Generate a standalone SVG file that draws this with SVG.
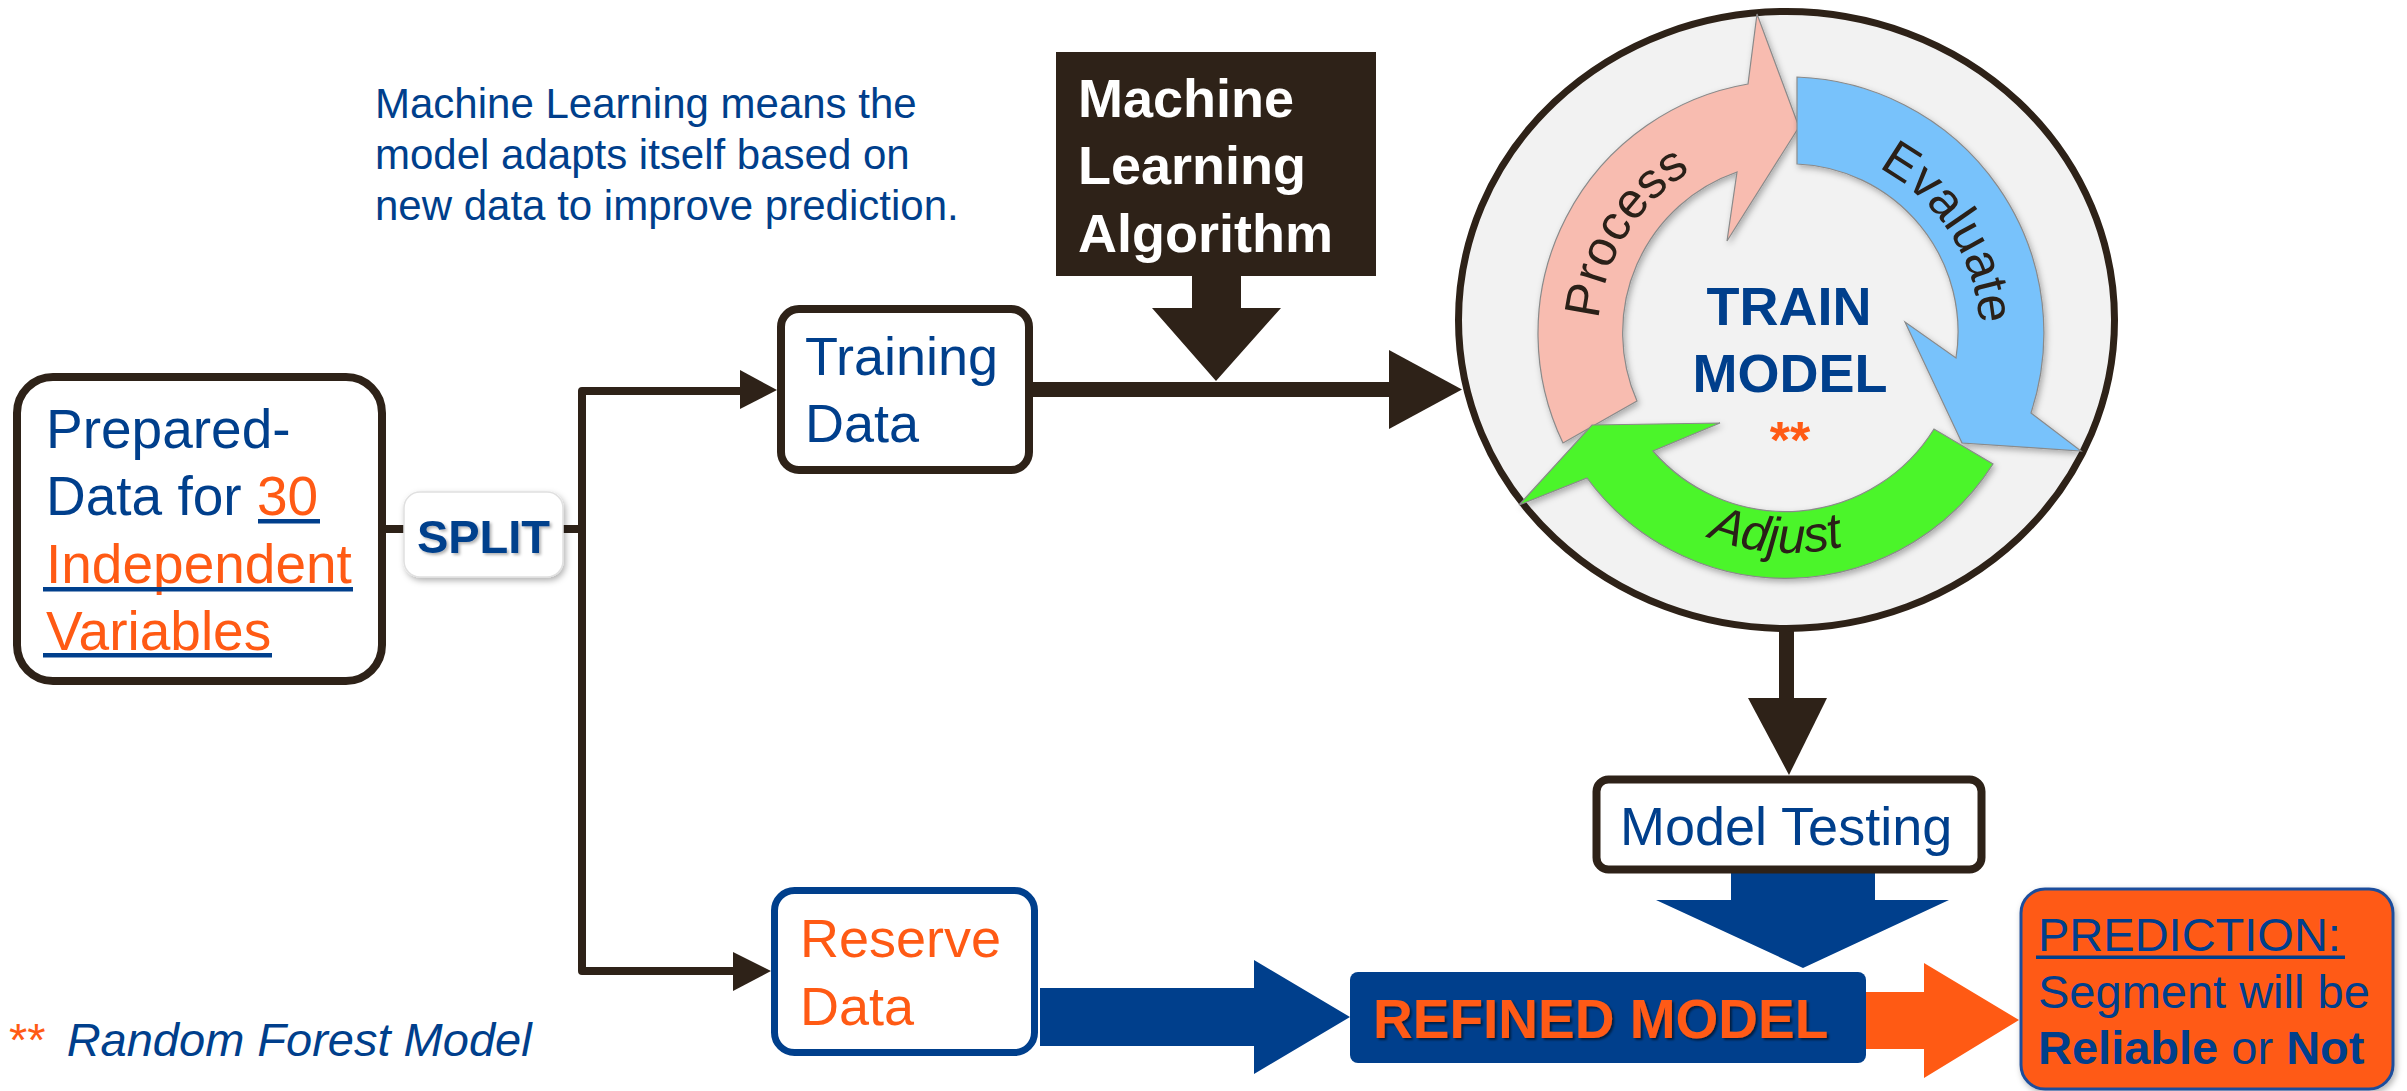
<svg xmlns="http://www.w3.org/2000/svg" width="2407" height="1091" viewBox="0 0 2407 1091">
<style>
.t{font-family:"Liberation Sans",Arial,sans-serif;}
.blue{fill:#003f8c;}
.orange{fill:#ff5a14;}
.dark{fill:#2e2218;}
.box{fill:#ffffff;stroke:#2e2218;stroke-width:8;}
.conn{fill:none;stroke:#2e2218;stroke-width:8;stroke-linejoin:round;}
.band{stroke:#8a8a8a;stroke-width:1.2;}
</style>
<defs>
<filter id="sh" x="-20%" y="-20%" width="140%" height="140%"><feDropShadow dx="2" dy="3" stdDeviation="3" flood-color="#000" flood-opacity="0.3"/></filter>
<filter id="tsh" x="-10%" y="-10%" width="120%" height="130%"><feDropShadow dx="2" dy="2" stdDeviation="1" flood-color="#000" flood-opacity="0.55"/></filter>
<filter id="tsh2" x="-10%" y="-10%" width="120%" height="130%"><feDropShadow dx="2" dy="2" stdDeviation="1.5" flood-color="#000" flood-opacity="0.3"/></filter>
<path id="pProcess" d="M 1620.5,426.1 A 192 192 0 0 1 1796.7,144.1"/>
<path id="pEvaluate" d="M 1780.1,146.3 A 190 190 0 0 1 1959.3,422.3"/>
<path id="pAdjust" d="M 1595,431.1 A 217 217 0 0 0 1969.9,457.3"/>
</defs>
<rect width="2407" height="1091" fill="#ffffff"/>

<g id="note">
<text class="t blue" font-size="42"><tspan x="375" y="118">Machine Learning means the</tspan><tspan x="375" y="169">model adapts itself based on</tspan><tspan x="375" y="220">new data to improve prediction.</tspan></text>
</g>

<g id="connectors">
<path class="conn" d="M 386,529 H 405"/>
<path class="conn" d="M 562,529 H 582"/>
<path class="conn" d="M 742,391 H 582 V 971 H 735"/>
<polygon class="dark" points="740,370 777,390 740,409"/>
<polygon class="dark" points="733,952 771,971 733,991"/>
<rect class="dark" x="1031" y="382" width="360" height="15"/>
<polygon class="dark" points="1389,350 1462,389.5 1389,429"/>
<polygon class="dark" points="1192,274 1241,274 1241,308 1281,308 1216,381 1152,308 1192,308"/>
<rect class="dark" x="1779" y="628" width="15" height="72"/>
<polygon class="dark" points="1748,698 1827,698 1789,775"/>
<polygon class="blue" points="1731,871 1875,871 1875,900 1949,900 1803,968 1656,900 1731,900"/>
<polygon class="blue" points="1040,988 1254,988 1254,960 1350,1017 1254,1074 1254,1046 1040,1046"/>
<polygon class="orange" points="1864,992 1924,992 1924,963 2019,1020 1924,1078 1924,1049 1864,1049"/>
</g>

<g id="prepared">
<rect class="box" x="17" y="377" width="365" height="304" rx="36"/>
<text class="t blue" font-size="55" x="46" y="448">Prepared-</text>
<text class="t blue" font-size="55" x="46" y="515">Data for <tspan class="orange">30</tspan></text>
<text class="t orange" font-size="55" x="46" y="583">Independent</text>
<text class="t orange" font-size="55" x="46" y="650">Variables</text>
<rect class="blue" x="258" y="519" width="62" height="4.5"/>
<rect class="blue" x="43" y="587" width="310" height="4.5"/>
<rect class="blue" x="43" y="653" width="229" height="4.5"/>
</g>

<g id="split">
<rect x="404" y="492" width="159" height="85" rx="16" fill="#ffffff" stroke="#e0e0e0" stroke-width="1.5" filter="url(#sh)"/>
<text class="t blue" font-size="47" font-weight="bold" x="483.5" y="553" text-anchor="middle" filter="url(#tsh2)">SPLIT</text>
</g>

<g id="training">
<rect class="box" x="781" y="309" width="248" height="161" rx="18"/>
<text class="t blue" font-size="54" x="805" y="375">Training</text>
<text class="t blue" font-size="54" x="805" y="442">Data</text>
</g>

<g id="ml-algorithm">
<rect class="dark" x="1056" y="52" width="320" height="224"/>
<text class="t" font-size="54" font-weight="bold" fill="#ffffff"><tspan x="1078" y="117">Machine</tspan><tspan x="1078" y="184">Learning</tspan><tspan x="1078" y="252">Algorithm</tspan></text>
</g>

<g id="train-model">
<ellipse cx="1786.5" cy="320" rx="328" ry="308.5" fill="#f2f2f2" stroke="#2e2218" stroke-width="7"/>
<path class="band" fill="#f8bcb0" filter="url(#sh)" d="M 1563,443 A 253 253 0 0 1 1748,84 L 1757,14 L 1799,127 L 1727,241 L 1737,172 A 170 170 0 0 0 1637,401 Z"/>
<path class="band" fill="#78c2fb" filter="url(#sh)" d="M 1797,77 A 256 256 0 0 1 2031,413 L 2081,451 L 1962,443 L 1905,322 L 1956,358 A 168 168 0 0 0 1797,164 Z"/>
<path class="band" fill="#4cf52c" filter="url(#sh)" d="M 1993,464 A 246 246 0 0 1 1587,478 L 1519,505 L 1592,425 L 1720,423 L 1653,451 A 175 175 0 0 0 1934,429 Z"/>
<text class="t" font-size="50" fill="#2a2018"><textPath href="#pProcess" startOffset="50%" text-anchor="middle">Process</textPath></text>
<text class="t" font-size="50" fill="#2a2018"><textPath href="#pEvaluate" startOffset="50%" text-anchor="middle">Evaluate</textPath></text>
<text class="t" font-size="50" font-style="italic" fill="#2a2018"><textPath href="#pAdjust" startOffset="50%" text-anchor="middle">Adjust</textPath></text>
<text class="t blue" font-size="54" font-weight="bold" text-anchor="middle" x="1789" y="325">TRAIN</text>
<text class="t blue" font-size="54" font-weight="bold" text-anchor="middle" x="1790" y="392">MODEL</text>
<text class="t orange" font-size="52" font-weight="bold" text-anchor="middle" x="1790" y="458">**</text>
</g>

<g id="model-testing">
<rect class="box" x="1596.5" y="779.5" width="385" height="90" rx="12" stroke-width="7"/>
<text class="t blue" font-size="54" x="1620" y="845">Model Testing</text>
</g>

<g id="reserve">
<rect x="774.5" y="890.5" width="260" height="162" rx="20" fill="#ffffff" stroke="#003f8c" stroke-width="7"/>
<text class="t orange" font-size="54" x="800" y="957">Reserve</text>
<text class="t orange" font-size="54" x="800" y="1025">Data</text>
</g>

<g id="refined">
<rect class="blue" x="1350" y="972" width="516" height="91" rx="8"/>
<text class="t orange" font-size="55" font-weight="bold" x="1373" y="1038" filter="url(#tsh)">REFINED MODEL</text>
</g>

<g id="prediction">
<rect x="2021" y="889" width="372" height="200" rx="24" fill="#ff5a14" stroke="#1f4e9c" stroke-width="3" filter="url(#sh)"/>
<text class="t blue" font-size="47" x="2038" y="951">PREDICTION:</text>
<rect class="blue" x="2036" y="955.5" width="309" height="3.5"/>
<text class="t blue" font-size="47" x="2038" y="1008">Segment will be</text>
<text class="t blue" font-size="47" x="2038" y="1064"><tspan font-weight="bold">Reliable</tspan> or <tspan font-weight="bold">Not</tspan></text>
</g>

<g id="footnote">
<text class="t" font-size="47" x="9" y="1056"><tspan class="orange">**</tspan><tspan class="blue" font-style="italic" dx="8"> Random Forest Model</tspan></text>
</g>
</svg>
